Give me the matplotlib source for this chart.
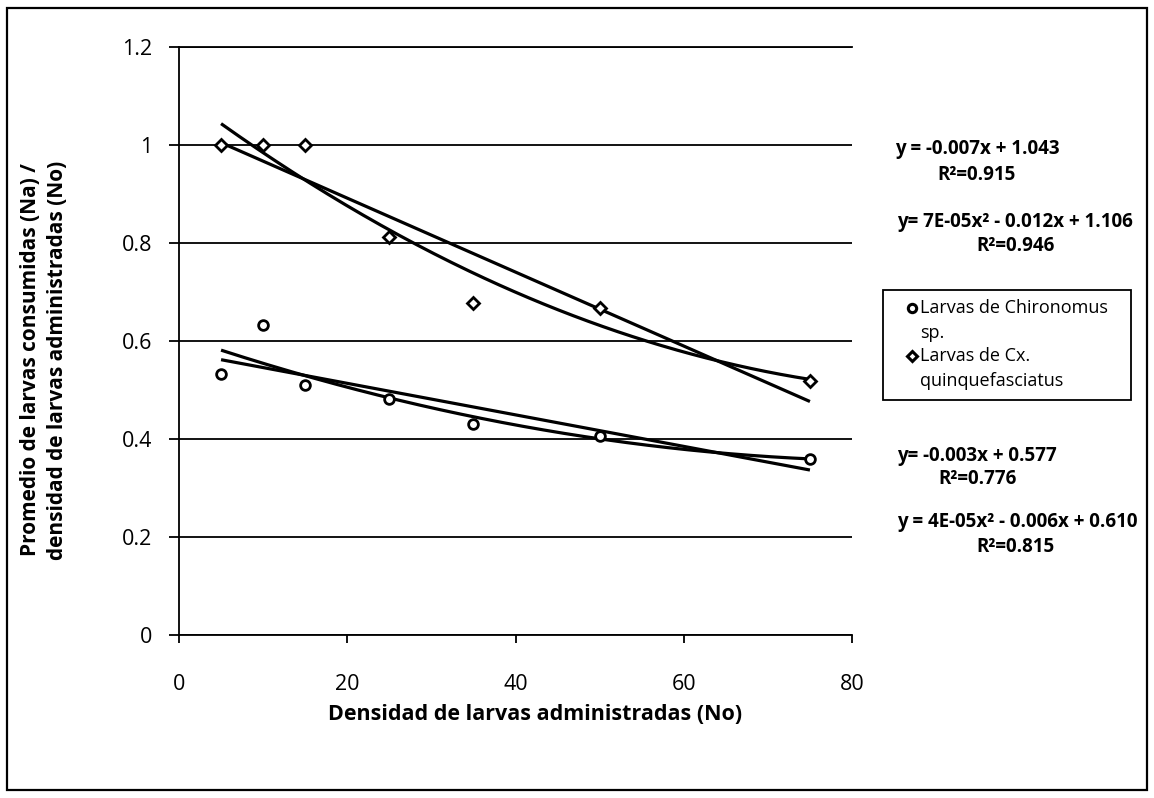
import numpy as np
import matplotlib
matplotlib.use("Agg")
import matplotlib.pyplot as plt
from matplotlib.patches import Rectangle
from matplotlib.lines import Line2D

plt.rcParams["font.family"] = ["Open Sans", "DejaVu Sans"]

# data
densidad = [5, 10, 15, 25, 35, 50, 75]
chironomus = [0.533, 0.633, 0.510, 0.482, 0.430, 0.406, 0.360]
culex = [1.000, 1.000, 1.000, 0.813, 0.677, 0.667, 0.518]

x_ticks = [0, 20, 40, 60, 80]
y_ticks = [0, 0.2, 0.4, 0.6, 0.8, 1.0, 1.2]
y_tick_labels = ["0", "0.2", "0.4", "0.6", "0.8", "1", "1.2"]

ecuaciones = [
    ("y = -0.007x + 1.043", "R²=0.915"),
    ("y= 7E-05x² - 0.012x + 1.106", "R²=0.946"),
    ("y= -0.003x + 0.577", "R²=0.776"),
    ("y = 4E-05x² - 0.006x + 0.610", "R²=0.815"),
]
etiquetas = [("Larvas de Chironomus", "sp."), ("Larvas de Cx.", "quinquefasciatus")]
marcadores = ["o", "D"]

W, H = 1154, 798
fig = plt.figure(figsize=(W / 100, H / 100), dpi=100)
fig.patch.set_facecolor("white")

def fx(px):
    return px / W

def fy(py):
    return 1 - py / H

# outer frame of the chart area
fig.add_artist(Rectangle((fx(7), fy(790)), 1140 / W, 782 / H,
                         transform=fig.transFigure, fill=False,
                         edgecolor="black", lw=1.6))

ax = fig.add_axes([fx(179), fy(635), 673 / W, 588 / H])

xs = np.array(densidad, dtype=float)
xx = np.linspace(xs.min(), xs.max(), 200)
for serie in (chironomus, culex):
    ys = np.array(serie)
    for deg in (1, 2):
        coef = np.polyfit(xs, ys, deg)
        ax.plot(xx, np.polyval(coef, xx), color="black", lw=2.3, zorder=3,
                solid_capstyle="butt")

ax.plot(densidad, chironomus, ls="none", marker="o", ms=7, mfc="white",
        mec="black", mew=2.0, zorder=4)
ax.plot(densidad, culex, ls="none", marker="D", ms=6, mfc="white",
        mec="black", mew=2.0, zorder=4)

ax.set_xlim(0, 80)
ax.set_ylim(0, 1.2)
ax.set_xticks(x_ticks)
ax.set_yticks(y_ticks)
ax.set_yticklabels(y_tick_labels)
ax.yaxis.grid(True, color="black", lw=1.3)
ax.set_axisbelow(True)
ax.spines["right"].set_visible(False)
for s in ("left", "bottom", "top"):
    ax.spines[s].set_linewidth(1.3)
ax.tick_params(axis="y", direction="out", length=7, width=1.3, pad=12,
               labelsize=15.5)
ax.tick_params(axis="x", direction="out", length=6, width=1.3, pad=22,
               labelsize=15.5)

fig.text(fx(535), fy(715), "Densidad de larvas administradas (No)",
         ha="center", va="center", fontsize=15.5, fontweight="bold")
fig.text(fx(44), fy(360),
         "Promedio de larvas consumidas (Na) /\ndensidad de larvas administradas (No)",
         ha="center", va="center", rotation=90, fontsize=15,
         fontweight="bold", multialignment="center", linespacing=1.35)

# trendline equations
pos_eq = [(895, 149, 977, 175), (897, 222, 1016, 246),
          (897, 456, 978, 479), (897, 522, 1015, 547)]
for (eq, r2), (x0, y0, x1, y1) in zip(ecuaciones, pos_eq):
    fig.text(fx(x0), fy(y0), eq, ha="left", va="center",
             fontsize=13.5, fontweight="bold")
    fig.text(fx(x1), fy(y1), r2, ha="center", va="center",
             fontsize=13.5, fontweight="bold")

# legend box drawn by hand so the marker sits on the first text line
fig.add_artist(Rectangle((fx(883), fy(400)), 248 / W, 110 / H,
                         transform=fig.transFigure, fill=True,
                         facecolor="white", edgecolor="black", lw=1.3))
for (l1, l2), m, y0 in zip(etiquetas, marcadores, (308, 356)):
    fig.add_artist(Line2D([fx(912)], [fy(y0)], transform=fig.transFigure,
                          ls="none", marker=m, ms=6 if m == "o" else 5,
                          mfc="white", mec="black", mew=2.2))
    fig.text(fx(920), fy(y0), l1, ha="left", va="center", fontsize=13)
    fig.text(fx(920), fy(y0 + 25), l2, ha="left", va="center", fontsize=13)

fig.savefig("out.png", dpi=100, facecolor="white")
